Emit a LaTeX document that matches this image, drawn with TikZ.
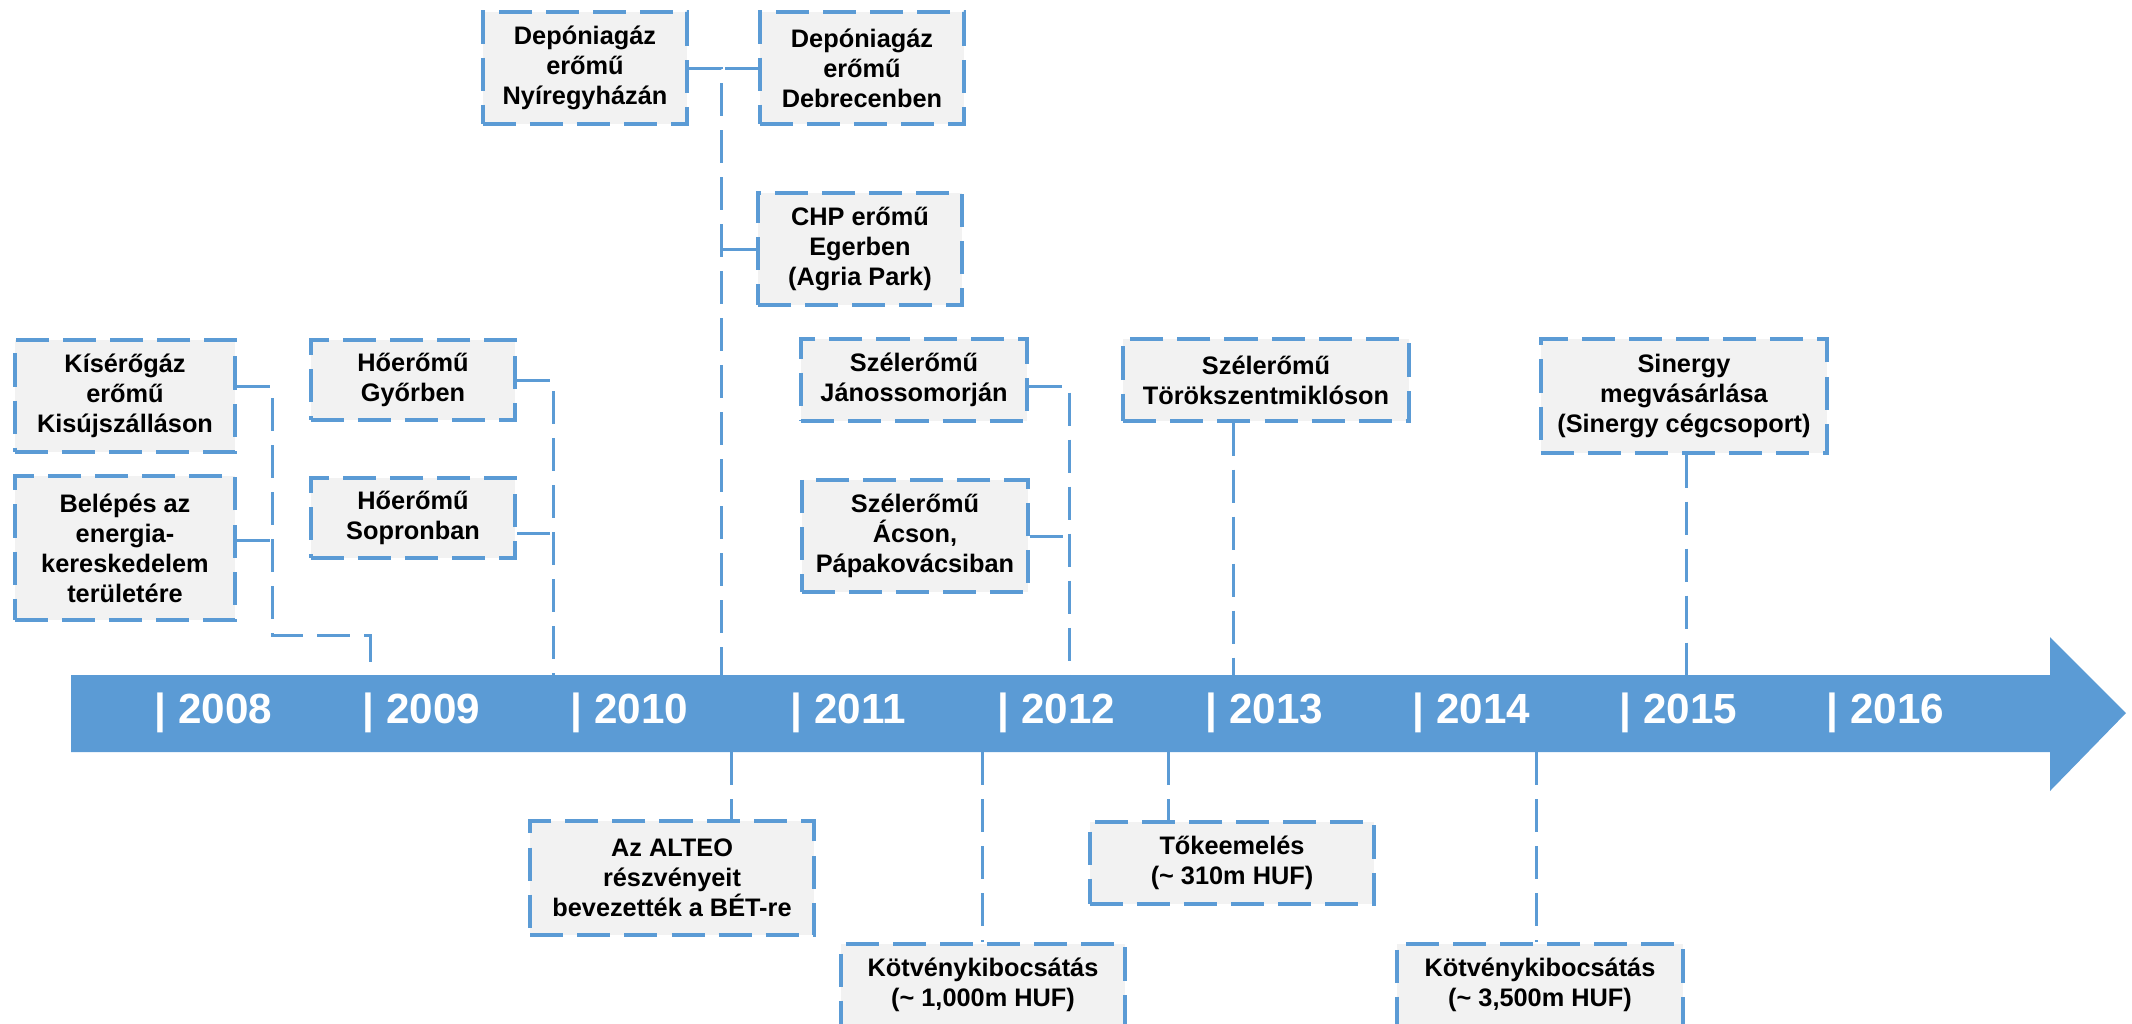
\documentclass[tikz,border=0pt]{standalone}
\usepackage{fontspec}
\setmainfont{Liberation Sans}
\definecolor{altblue}{HTML}{5B9BD5}
\definecolor{boxgray}{HTML}{F2F2F2}

\begin{document}
\begin{tikzpicture}[x=0.01cm,y=-0.01cm,
  event/.style={draw=altblue,fill=boxgray,line width=0.04cm,dash pattern=on 0.33cm off 0.14cm,
    inner sep=0pt,align=center,font=\fontsize{7.2}{8.5}\selectfont\bfseries},
  conn/.style={draw=altblue,line width=0.03cm,dash pattern=on 0.33cm off 0.14cm},
  yearlbl/.style={anchor=west,inner sep=0pt,text=white,font=\fontsize{12}{14}\selectfont\bfseries}]
\useasboundingbox (0,0) rectangle (2132,1023);

% timeline arrow
\fill[altblue] (71,675) -- (2050,675) -- (2050,637) -- (2126,713) -- (2050,791) -- (2050,752) -- (71,752) -- cycle;
\foreach \yr/\x in {2008/154,2009/362,2010/570,2011/790,2012/997,2013/1205,2014/1412,2015/1619,2016/1826}
  \node[yearlbl] (y\yr) at (\x,713) {| \yr};

% events above
\node[event,minimum width=2.2cm,minimum height=1.11cm] (kiserogaz) at (125,396) {Kísérőgáz\\erőmű\\Kisújszálláson};
\node[event,minimum width=2.2cm,minimum height=1.43cm] (belepes) at (125,548) {Belépés az\\energia-\\kereskedelem\\területére};
\node[event,minimum width=2.04cm,minimum height=0.8cm] (gyor) at (413,380) {Hőerőmű\\Győrben};
\node[event,minimum width=2.04cm,minimum height=0.8cm] (sopron) at (413,518) {Hőerőmű\\Sopronban};
\node[event,minimum width=2.04cm,minimum height=1.11cm] (nyir) at (585,68) {Depóniagáz\\erőmű\\Nyíregyházán};
\node[event,minimum width=2.04cm,minimum height=1.11cm] (debrecen) at (862,68) {Depóniagáz\\erőmű\\Debrecenben};
\node[event,minimum width=2.04cm,minimum height=1.12cm] (eger) at (860,249) {CHP erőmű\\Egerben\\(Agria Park)};
\node[event,minimum width=2.25cm,minimum height=0.81cm] (janosso) at (914,380) {Szélerőmű\\Jánossomorján};
\node[event,minimum width=2.26cm,minimum height=1.12cm] (acs) at (915,536) {Szélerőmű\\Ácson,\\Pápakovácsiban};
\node[event,minimum width=2.85cm,minimum height=0.81cm] (torok) at (1266,380) {Szélerőmű\\Törökszentmiklóson};
\node[event,minimum width=2.86cm,minimum height=1.13cm] (sinergy) at (1684,396) {Sinergy\\megvásárlása\\(Sinergy cégcsoport)};

% events below
\node[event,minimum width=2.83cm,minimum height=1.13cm] (alteo) at (672,878) {Az ALTEO\\részvényeit\\bevezették a BÉT-re};
\node[event,minimum width=2.84cm,minimum height=0.81cm] (kotveny1) at (983,985) {Kötvénykibocsátás\\(\textasciitilde{} 1,000m HUF)};
\node[event,minimum width=2.84cm,minimum height=0.81cm] (toke) at (1232,863) {Tőkeemelés\\(\textasciitilde{} 310m HUF)};
\node[event,minimum width=2.86cm,minimum height=0.81cm] (kotveny2) at (1540,985) {Kötvénykibocsátás\\(\textasciitilde{} 3,500m HUF)};

\coordinate (bend08) at (272,635);
\coordinate (t09) at (370,675);
\coordinate (t10a) at (553,675);
\coordinate (t10b) at (721,675);
\coordinate (t12) at (1069,675);
\coordinate (t13) at (1233,675);
\coordinate (t15) at (1686,675);
\coordinate (b10) at (731,752);
\coordinate (b11) at (982,752);
\coordinate (b12) at (1168,752);
\coordinate (b14) at (1536,752);

% connectors
\draw[conn] ([yshift=0.1cm]kiserogaz.east) -| (bend08) -| (t09);
\draw[conn] ([yshift=0.08cm]belepes.east) coordinate (be) -- (be -| bend08);
\draw[conn] (gyor.east) -| (t10a);
\draw[conn] ([yshift=-0.15cm]sopron.east) coordinate (so) -- (so -| t10a);
\draw[conn] (nyir.east) -| (t10b);
\draw[conn] (debrecen.west) -- (debrecen.west -| t10b);
\draw[conn] (eger.west) -- (eger.west -| t10b);
\draw[conn] ([yshift=-0.06cm]janosso.east) coordinate (ja) -| (t12);
\draw[conn] (acs.east) -- (acs.east -| t12);
\draw[conn] (torok.south -| t13) -- (t13);
\draw[conn] (sinergy.south -| t15) -- (t15);
\draw[conn] (b10) -- (alteo.north -| b10);
\draw[conn] (b11) -- (kotveny1.north -| b11);
\draw[conn] (b12) -- (toke.north -| b12);
\draw[conn] (b14) -- (kotveny2.north -| b14);
\end{tikzpicture}
\end{document}
